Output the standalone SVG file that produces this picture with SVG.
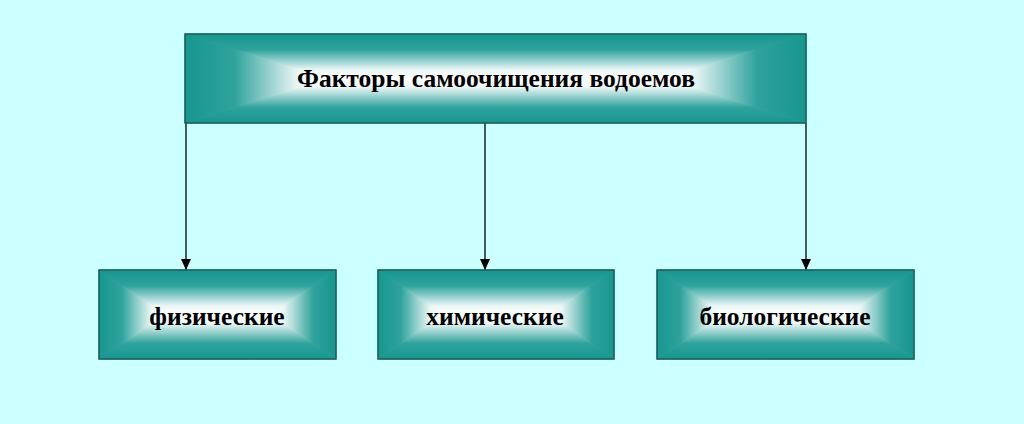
<svg xmlns="http://www.w3.org/2000/svg" width="1024" height="424" viewBox="0 0 1024 424">
<defs>
<linearGradient id="gT" x1="0" y1="0" x2="0" y2="1"><stop offset="0" stop-color="#17968f"/><stop offset="0.35" stop-color="#2fa29c"/><stop offset="0.8" stop-color="#e9f6f5"/><stop offset="1" stop-color="#ffffff"/></linearGradient>
<linearGradient id="gB" x1="0" y1="1" x2="0" y2="0"><stop offset="0" stop-color="#17968f"/><stop offset="0.35" stop-color="#2fa29c"/><stop offset="0.8" stop-color="#e9f6f5"/><stop offset="1" stop-color="#ffffff"/></linearGradient>
<linearGradient id="gL" x1="0" y1="0" x2="1" y2="0"><stop offset="0" stop-color="#17968f"/><stop offset="0.35" stop-color="#2fa29c"/><stop offset="0.8" stop-color="#e9f6f5"/><stop offset="1" stop-color="#ffffff"/></linearGradient>
<linearGradient id="gR" x1="1" y1="0" x2="0" y2="0"><stop offset="0" stop-color="#17968f"/><stop offset="0.35" stop-color="#2fa29c"/><stop offset="0.8" stop-color="#e9f6f5"/><stop offset="1" stop-color="#ffffff"/></linearGradient>
<marker id="arr" markerWidth="12" markerHeight="10" refX="11" refY="5" orient="auto" markerUnits="userSpaceOnUse" viewBox="0 0 12 10">
<path d="M0,0 L11,5 L0,10 Z" fill="#000"/>
</marker>
</defs>
<style>
.bg{fill:#ccffff}
.base{fill:#b5e0dd}
.t{fill:url(#gT);stroke:url(#gT);stroke-width:0.8}
.b{fill:url(#gB);stroke:url(#gB);stroke-width:0.8}
.l{fill:url(#gL);stroke:url(#gL);stroke-width:0.8}
.r{fill:url(#gR);stroke:url(#gR);stroke-width:0.8}
.frame{fill:none;stroke:#1e5c5a;stroke-width:1.5}
.lbl{font-family:"Liberation Serif","Times New Roman",serif;font-weight:bold;font-size:25.5px;fill:#000;text-anchor:middle}
.conn{stroke:#000;stroke-width:1.3;fill:none}
</style>
<rect class="bg" x="0" y="0" width="1024" height="424"/>
<g id="connectors">
<line class="conn" x1="186" y1="123" x2="186" y2="270" marker-end="url(#arr)"/>
<line class="conn" x1="485" y1="123" x2="485" y2="270" marker-end="url(#arr)"/>
<line class="conn" x1="806" y1="123" x2="806" y2="270" marker-end="url(#arr)"/>
</g>
<g id="node-top">
<rect class="base" x="185" y="34" width="621" height="89"/>
<polygon class="t" points="185,34 806,34 666,78.5 325,78.5"/>
<polygon class="b" points="185,123 806,123 666,78.5 325,78.5"/>
<polygon class="l" points="185,34 185,123 325,78.5"/>
<polygon class="r" points="806,34 806,123 666,78.5"/>
<rect class="frame" x="185" y="34" width="621" height="89"/>
<text class="lbl" x="496" y="87">Факторы самоочищения водоемов</text>
</g>
<g id="node-phys">
<rect class="base" x="99" y="270" width="237" height="89"/>
<polygon class="t" points="99,270 336,270 271,314.5 164,314.5"/>
<polygon class="b" points="99,359 336,359 271,314.5 164,314.5"/>
<polygon class="l" points="99,270 99,359 164,314.5"/>
<polygon class="r" points="336,270 336,359 271,314.5"/>
<rect class="frame" x="99" y="270" width="237" height="89"/>
<text class="lbl" x="217" y="325">физические</text>
</g>
<g id="node-chem">
<rect class="base" x="378" y="270" width="236" height="89"/>
<polygon class="t" points="378,270 614,270 549,314.5 443,314.5"/>
<polygon class="b" points="378,359 614,359 549,314.5 443,314.5"/>
<polygon class="l" points="378,270 378,359 443,314.5"/>
<polygon class="r" points="614,270 614,359 549,314.5"/>
<rect class="frame" x="378" y="270" width="236" height="89"/>
<text class="lbl" x="495" y="325">химические</text>
</g>
<g id="node-bio">
<rect class="base" x="657" y="270" width="257" height="89"/>
<polygon class="t" points="657,270 914,270 847,314.5 724,314.5"/>
<polygon class="b" points="657,359 914,359 847,314.5 724,314.5"/>
<polygon class="l" points="657,270 657,359 724,314.5"/>
<polygon class="r" points="914,270 914,359 847,314.5"/>
<rect class="frame" x="657" y="270" width="257" height="89"/>
<text class="lbl" x="785" y="325">биологические</text>
</g>
</svg>
